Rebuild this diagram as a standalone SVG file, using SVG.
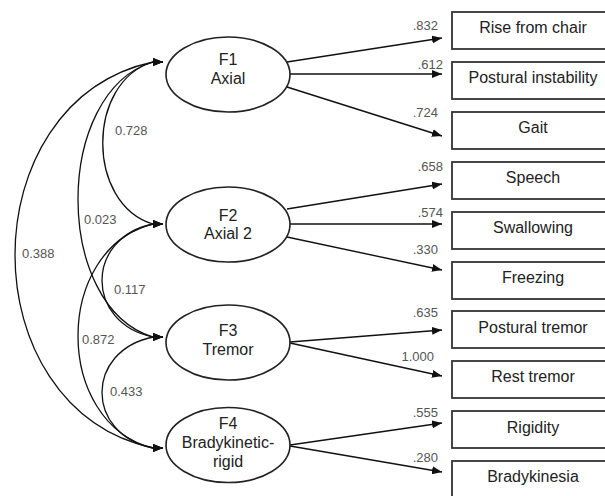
<svg xmlns="http://www.w3.org/2000/svg" width="605" height="496" viewBox="0 0 605 496">
<defs>
<marker id="ah" markerUnits="userSpaceOnUse" markerWidth="10" markerHeight="8" refX="10" refY="4" orient="auto-start-reverse">
<path d="M0,0 L10,4 L0,8 z" fill="#111"/>
</marker>
<style>
.ell{fill:#fff;stroke:#222;stroke-width:1.6}
.box{fill:#fff;stroke:#333;stroke-width:1.8}
.t{font-family:"Liberation Sans",Arial,sans-serif;font-size:16px;fill:#222;text-anchor:middle}
.n{font-family:"Liberation Sans",Arial,sans-serif;font-size:13px;fill:#555}
.ne{text-anchor:end}
.ln{stroke:#111;stroke-width:1.4;fill:none;marker-end:url(#ah)}
.cv{stroke:#111;stroke-width:1.3;fill:none;marker-start:url(#ah);marker-end:url(#ah)}
</style>
</defs>
<rect width="605" height="496" fill="#fff"/>
<g id="connectors">
<line class="ln" x1="287" y1="62" x2="442" y2="38"/>
<line class="ln" x1="290" y1="74" x2="442" y2="74"/>
<line class="ln" x1="287" y1="87" x2="442" y2="136"/>
<line class="ln" x1="287" y1="209" x2="442" y2="184"/>
<line class="ln" x1="290" y1="224" x2="442" y2="224"/>
<line class="ln" x1="287" y1="237" x2="442" y2="270"/>
<line class="ln" x1="290" y1="342" x2="442" y2="330"/>
<line class="ln" x1="290" y1="343" x2="442" y2="376"/>
<line class="ln" x1="290" y1="445" x2="442" y2="423"/>
<line class="ln" x1="290" y1="446" x2="442" y2="472"/>
<path class="cv" d="M163,62 L153,62 C86,82 86,204 153,224 L163,224"/>
<path class="cv" d="M163,62 L153,62 C53,92 53,307 153,337 L163,337"/>
<path class="cv" d="M163,62 L153,62 C-31,102 -31,408 153,448 L163,448"/>
<path class="cv" d="M163,224 L153,224 C85,238 85,323 153,337 L163,337"/>
<path class="cv" d="M163,224 L153,224 C53,249 53,423 153,448 L163,448"/>
<path class="cv" d="M163,337 L153,337 C85,351 85,434 153,448 L163,448"/>
<text class="n" x="115" y="135">0.728</text>
<text class="n" x="84" y="224">0.023</text>
<text class="n" x="22" y="258">0.388</text>
<text class="n" x="114" y="294">0.117</text>
<text class="n" x="82" y="344">0.872</text>
<text class="n" x="110" y="396">0.433</text>
<text class="n ne" x="438" y="30">.832</text>
<text class="n ne" x="443" y="69">.612</text>
<text class="n ne" x="438" y="117">.724</text>
<text class="n ne" x="443" y="171">.658</text>
<text class="n ne" x="443" y="217">.574</text>
<text class="n ne" x="438" y="254">.330</text>
<text class="n ne" x="438" y="317">.635</text>
<text class="n ne" x="434" y="361">1.000</text>
<text class="n ne" x="438" y="417">.555</text>
<text class="n ne" x="438" y="462">.280</text>
</g>
<g id="F1"><ellipse class="ell" cx="228" cy="74.5" rx="62" ry="37.5"/><text class="t" x="228" y="65">F1</text><text class="t" x="228" y="83.5">Axial</text></g>
<g id="F2"><ellipse class="ell" cx="228" cy="224.5" rx="62" ry="37.5"/><text class="t" x="228" y="221">F2</text><text class="t" x="228" y="239">Axial 2</text></g>
<g id="F3"><ellipse class="ell" cx="228" cy="342.5" rx="62" ry="37.5"/><text class="t" x="228" y="336">F3</text><text class="t" x="228" y="355">Tremor</text></g>
<g id="F4"><ellipse class="ell" cx="228" cy="445" rx="62" ry="37.5"/><text class="t" x="228" y="429">F4</text><text class="t" x="228" y="448">Bradykinetic-</text><text class="t" x="228" y="467">rigid</text></g>
<g id="rise"><rect class="box" x="452" y="12" width="170" height="37"/><text class="t" x="533" y="33">Rise from chair</text></g>
<g id="postural-instability"><rect class="box" x="452" y="62" width="170" height="37"/><text class="t" x="533" y="83">Postural instability</text></g>
<g id="gait"><rect class="box" x="452" y="112" width="170" height="37"/><text class="t" x="533" y="133">Gait</text></g>
<g id="speech"><rect class="box" x="452" y="162" width="170" height="37"/><text class="t" x="533" y="183">Speech</text></g>
<g id="swallowing"><rect class="box" x="452" y="212" width="170" height="37"/><text class="t" x="533" y="233">Swallowing</text></g>
<g id="freezing"><rect class="box" x="452" y="262" width="170" height="37"/><text class="t" x="533" y="283">Freezing</text></g>
<g id="postural-tremor"><rect class="box" x="452" y="311" width="170" height="37"/><text class="t" x="533" y="333">Postural tremor</text></g>
<g id="rest-tremor"><rect class="box" x="452" y="361" width="170" height="37"/><text class="t" x="533" y="382">Rest tremor</text></g>
<g id="rigidity"><rect class="box" x="452" y="411" width="170" height="37"/><text class="t" x="533" y="433">Rigidity</text></g>
<g id="bradykinesia"><rect class="box" x="452" y="461" width="170" height="37"/><text class="t" x="533" y="482">Bradykinesia</text></g>
</svg>
